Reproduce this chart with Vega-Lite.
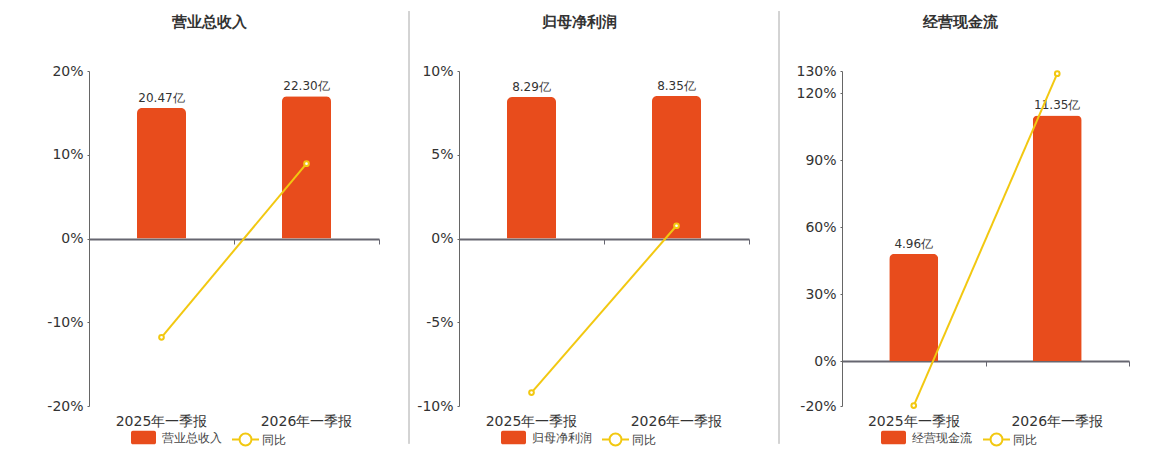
{
  "$schema": "https://vega.github.io/schema/vega-lite/v6.json",
  "autosize": {"type": "pad"},
  "padding": {"left": 46, "top": 10, "right": 5, "bottom": 5},
  "bounds": "flush",
  "spacing": 0,
  "config": {
    "font": "DejaVu Sans",
    "view": {"stroke": null},
    "title": {"fontSize": 15, "fontWeight": "bold", "color": "#333333", "font": "DejaVu Sans", "offset": 34, "dx": -25, "frame": "group"},
    "axis": {"labelColor": "#333333", "labelFontSize": 14, "title": null},
    "legend": {"orient": "none", "legendY": 354, "direction": "horizontal", "title": null, "labelFontSize": 12, "labelColor": "#444444", "labelOffset": 6, "padding": 0}
  },
  "datasets": {
    "revenue": [
      {"period": "2025年一季报", "value": 20.47, "yoy": -11.8},
      {"period": "2026年一季报", "value": 22.30, "yoy": 8.94}
    ],
    "profit": [
      {"period": "2025年一季报", "value": 8.29, "yoy": -9.2},
      {"period": "2026年一季报", "value": 8.35, "yoy": 0.76}
    ],
    "cash": [
      {"period": "2025年一季报", "value": 4.96, "yoy": -19.8},
      {"period": "2026年一季报", "value": 11.35, "yoy": 128.8}
    ]
  },
  "hconcat": [
    {
      "width": 290,
      "height": 335,
      "title": "营业总收入",
      "data": {"name": "revenue"},
      "transform": [{"calculate": "format(datum.value, '.2f') + '亿'", "as": "label"}],
      "layer": [
        {
          "mark": {"type": "bar", "width": 49, "cornerRadiusTopLeft": 5, "cornerRadiusTopRight": 5},
          "encoding": {
            "x": {"field": "period", "type": "nominal", "sort": null, "axis": {"domain": false, "ticks": false, "labelAngle": 0, "labelPadding": 8}},
            "y": {"field": "value", "type": "quantitative", "scale": {"domain": [-26.25, 26.25]}, "axis": null},
            "color": {"datum": "营业总收入", "scale": {"range": ["#E84C1C"]}, "legend": {"legendX": 42, "symbolType": "M-0.85,-0.54H0.85A0.15,0.15 0 0 1 1,-0.39V0.39A0.15,0.15 0 0 1 0.85,0.54H-0.85A0.15,0.15 0 0 1 -1,0.39V-0.39A0.15,0.15 0 0 1 -0.85,-0.54Z", "symbolSize": 625, "symbolStrokeWidth": 0}}
          }
        },
        {
          "mark": {"type": "text", "dy": -10, "fontSize": 12, "color": "#333333"},
          "encoding": {
            "x": {"field": "period", "type": "nominal", "sort": null, "axis": null},
            "y": {"field": "value", "type": "quantitative", "scale": {"domain": [-26.25, 26.25]}, "axis": null},
            "text": {"field": "label"}
          }
        },
        {
          "mark": {"type": "line", "strokeWidth": 2, "point": {"filled": false, "fill": "white", "size": 22, "strokeWidth": 2}},
          "encoding": {
            "x": {"field": "period", "type": "nominal", "sort": null, "axis": {"orient": "bottom", "offset": -167, "labels": false, "domainColor": "#666670", "domainWidth": 2, "tickColor": "#666670", "tickBand": "extent", "tickSize": 5}},
            "y": {"field": "yoy", "type": "quantitative", "scale": {"domain": [-20, 20]}, "axis": {"values": [-20, -10, 0, 10, 20], "labelExpr": "datum.value + '%'", "domainColor": "#666666", "tickSize": 2, "tickColor": "#666666", "gridColor": "#E3E8F0", "labelPadding": 4}},
            "stroke": {"datum": "同比", "scale": {"range": ["#F2C811"]}, "legend": {"legendX": 142, "labelOffset": 2, "symbolType": "M-1,0H-0.44M0.44,0H1M0.44,0A0.44,0.44 0 1,1 -0.44,0A0.44,0.44 0 1,1 0.44,0", "symbolSize": 729, "symbolStrokeWidth": 2, "symbolFillColor": "white"}}
          }
        }
      ],
      "resolve": {"scale": {"x": "independent", "y": "independent"}, "axis": {"x": "independent", "y": "independent"}}
    },
    {
      "width": 80,
      "height": 335,
      "data": {"values": [{}]},
      "mark": {"type": "rule", "color": "#A8A8A8"},
      "encoding": {
        "x": {"datum": 0.375, "type": "quantitative", "scale": {"domain": [0, 1]}, "axis": null},
        "y": {"datum": 1.179, "type": "quantitative", "scale": {"domain": [0, 1]}, "axis": null},
        "y2": {"datum": -0.113}
      }
    },
    {
      "width": 290,
      "height": 335,
      "title": "归母净利润",
      "data": {"name": "profit"},
      "transform": [{"calculate": "format(datum.value, '.2f') + '亿'", "as": "label"}],
      "layer": [
        {
          "mark": {"type": "bar", "width": 49, "cornerRadiusTopLeft": 5, "cornerRadiusTopRight": 5},
          "encoding": {
            "x": {"field": "period", "type": "nominal", "sort": null, "axis": {"domain": false, "ticks": false, "labelAngle": 0, "labelPadding": 8}},
            "y": {"field": "value", "type": "quantitative", "scale": {"domain": [-9.82, 9.82]}, "axis": null},
            "color": {"datum": "归母净利润", "scale": {"range": ["#E84C1C"]}, "legend": {"legendX": 42, "symbolType": "M-0.85,-0.54H0.85A0.15,0.15 0 0 1 1,-0.39V0.39A0.15,0.15 0 0 1 0.85,0.54H-0.85A0.15,0.15 0 0 1 -1,0.39V-0.39A0.15,0.15 0 0 1 -0.85,-0.54Z", "symbolSize": 625, "symbolStrokeWidth": 0}}
          }
        },
        {
          "mark": {"type": "text", "dy": -10, "fontSize": 12, "color": "#333333"},
          "encoding": {
            "x": {"field": "period", "type": "nominal", "sort": null, "axis": null},
            "y": {"field": "value", "type": "quantitative", "scale": {"domain": [-9.82, 9.82]}, "axis": null},
            "text": {"field": "label"}
          }
        },
        {
          "mark": {"type": "line", "strokeWidth": 2, "point": {"filled": false, "fill": "white", "size": 22, "strokeWidth": 2}},
          "encoding": {
            "x": {"field": "period", "type": "nominal", "sort": null, "axis": {"orient": "bottom", "offset": -167, "labels": false, "domainColor": "#666670", "domainWidth": 2, "tickColor": "#666670", "tickBand": "extent", "tickSize": 5}},
            "y": {"field": "yoy", "type": "quantitative", "scale": {"domain": [-10, 10]}, "axis": {"values": [-10, -5, 0, 5, 10], "labelExpr": "datum.value + '%'", "domainColor": "#666666", "tickSize": 2, "tickColor": "#666666", "gridColor": "#E3E8F0", "labelPadding": 4}},
            "stroke": {"datum": "同比", "scale": {"range": ["#F2C811"]}, "legend": {"legendX": 142, "labelOffset": 2, "symbolType": "M-1,0H-0.44M0.44,0H1M0.44,0A0.44,0.44 0 1,1 -0.44,0A0.44,0.44 0 1,1 0.44,0", "symbolSize": 729, "symbolStrokeWidth": 2, "symbolFillColor": "white"}}
          }
        }
      ],
      "resolve": {"scale": {"x": "independent", "y": "independent"}, "axis": {"x": "independent", "y": "independent"}}
    },
    {
      "width": 93,
      "height": 335,
      "data": {"values": [{}]},
      "mark": {"type": "rule", "color": "#A8A8A8"},
      "encoding": {
        "x": {"datum": 0.3226, "type": "quantitative", "scale": {"domain": [0, 1]}, "axis": null},
        "y": {"datum": 1.179, "type": "quantitative", "scale": {"domain": [0, 1]}, "axis": null},
        "y2": {"datum": -0.113}
      }
    },
    {
      "width": 287,
      "height": 335,
      "title": "经营现金流",
      "data": {"name": "cash"},
      "transform": [{"calculate": "format(datum.value, '.2f') + '亿'", "as": "label"}],
      "layer": [
        {
          "mark": {"type": "bar", "width": 49, "cornerRadiusTopLeft": 5, "cornerRadiusTopRight": 5},
          "encoding": {
            "x": {"field": "period", "type": "nominal", "sort": null, "axis": {"domain": false, "ticks": false, "labelAngle": 0, "labelPadding": 8}},
            "y": {"field": "value", "type": "quantitative", "scale": {"domain": [-2.06, 13.4]}, "axis": null},
            "color": {"datum": "经营现金流", "scale": {"range": ["#E84C1C"]}, "legend": {"legendX": 39, "symbolType": "M-0.85,-0.54H0.85A0.15,0.15 0 0 1 1,-0.39V0.39A0.15,0.15 0 0 1 0.85,0.54H-0.85A0.15,0.15 0 0 1 -1,0.39V-0.39A0.15,0.15 0 0 1 -0.85,-0.54Z", "symbolSize": 625, "symbolStrokeWidth": 0}}
          }
        },
        {
          "mark": {"type": "text", "dy": -10, "fontSize": 12, "color": "#333333"},
          "encoding": {
            "x": {"field": "period", "type": "nominal", "sort": null, "axis": null},
            "y": {"field": "value", "type": "quantitative", "scale": {"domain": [-2.06, 13.4]}, "axis": null},
            "text": {"field": "label"}
          }
        },
        {
          "mark": {"type": "line", "strokeWidth": 2, "point": {"filled": false, "fill": "white", "size": 22, "strokeWidth": 2}},
          "encoding": {
            "x": {"field": "period", "type": "nominal", "sort": null, "axis": {"orient": "bottom", "offset": -45, "labels": false, "domainColor": "#666670", "domainWidth": 2, "tickColor": "#666670", "tickBand": "extent", "tickSize": 5}},
            "y": {"field": "yoy", "type": "quantitative", "scale": {"domain": [-20, 130]}, "axis": {"values": [-20, 0, 30, 60, 90, 120, 130], "labelExpr": "datum.value + '%'", "domainColor": "#666666", "tickSize": 2, "tickColor": "#666666", "gridColor": "#E3E8F0", "labelPadding": 4}},
            "stroke": {"datum": "同比", "scale": {"range": ["#F2C811"]}, "legend": {"legendX": 140, "labelOffset": 2, "symbolType": "M-1,0H-0.44M0.44,0H1M0.44,0A0.44,0.44 0 1,1 -0.44,0A0.44,0.44 0 1,1 0.44,0", "symbolSize": 729, "symbolStrokeWidth": 2, "symbolFillColor": "white"}}
          }
        }
      ],
      "resolve": {"scale": {"x": "independent", "y": "independent"}, "axis": {"x": "independent", "y": "independent"}}
    }
  ],
  "resolve": {"scale": {"color": "independent", "stroke": "independent"}, "legend": {"color": "independent", "stroke": "independent"}}
}
